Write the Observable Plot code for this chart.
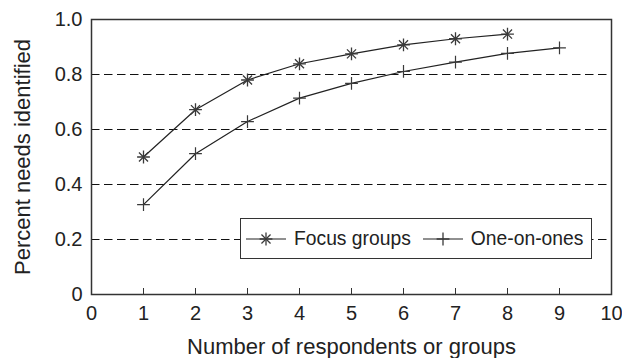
<!DOCTYPE html>
<html>
<head>
<meta charset="utf-8">
<script src="https://cdn.jsdelivr.net/npm/d3@7"></script>
<script src="https://cdn.jsdelivr.net/npm/@observablehq/plot@0.6"></script>
<style>
  body { margin: 0; background: #fff; }
  #wrap { position: relative; width: 622px; height: 358px; font-family: "Liberation Sans", Arial, sans-serif; }
  #legend { position: absolute; left: 240px; top: 218px; width: 350px; height: 39px; border: 1.5px solid #333; background: #fff;
            display: flex; align-items: center; font-size: 19.3px; color: #222; }
  #legend .item { display: flex; align-items: center; }
  #legend svg { display: block; }
</style>
</head>
<body>
<div id="wrap"></div>
<script>
// ---- data ----
const respondents = [1, 2, 3, 4, 5, 6, 7, 8, 9];
const focusGroups = [0.50, 0.672, 0.78, 0.839, 0.875, 0.908, 0.93, 0.947];
const oneOnOnes = [0.327, 0.512, 0.629, 0.714, 0.768, 0.811, 0.845, 0.877, 0.897];
const seriesNames = ["Focus groups", "One-on-ones"];
const xTickValues = [0, 1, 2, 3, 4, 5, 6, 7, 8, 9, 10];
const xInnerTicks = [1, 2, 3, 4, 5, 6, 7, 8, 9];
const yTickValues = [0, 0.2, 0.4, 0.6, 0.8, 1.0];
const gridValues = [0.2, 0.4, 0.6, 0.8];
const xTitle = "Number of respondents or groups";
const yTitle = "Percent needs identified";

const focusData = focusGroups.map((v, i) => ({x: respondents[i], y: v}));
const oneData = oneOnOnes.map((v, i) => ({x: respondents[i], y: v}));

const ink = "#222";
const markInk = "#3a3a3a";

const chart = Plot.plot({
  width: 622,
  height: 358,
  marginLeft: 91,
  marginRight: 11,
  marginTop: 19,
  marginBottom: 64,
  x: {domain: [0, 10]},
  y: {domain: [0, 1]},
  style: {fontFamily: "'Liberation Sans', Arial, sans-serif", fontSize: "20px", color: ink, background: "#fff"},
  marks: [
    Plot.gridY(gridValues, {stroke: "#111", strokeOpacity: 1, strokeWidth: 1.2, strokeDasharray: "8.5,4.5"}),
    Plot.axisY(yTickValues, {tickSize: 0, tickPadding: 9, label: null, tickFormat: d => d === 0 ? "0" : d.toFixed(1)}),
    Plot.axisX(xTickValues, {tickSize: 0, tickPadding: 11, label: null, tickFormat: d => String(d)}),
    Plot.axisX(xInnerTicks, {tickSize: 6, dy: -6, label: null, tickFormat: () => "", stroke: "#333"}),
    Plot.line(focusData, {x: "x", y: "y", stroke: ink, strokeWidth: 1.2}),
    Plot.line(oneData, {x: "x", y: "y", stroke: ink, strokeWidth: 1.2}),
    Plot.dot(focusData, {x: "x", y: "y", symbol: "plus", r: 4.2, stroke: markInk, strokeWidth: 1.3}),
    Plot.dot(focusData, {x: "x", y: "y", symbol: "times", r: 4.2, stroke: markInk, strokeWidth: 1.3}),
    Plot.dot(oneData, {x: "x", y: "y", symbol: "plus", r: 4.2, stroke: markInk, strokeWidth: 1.2}),
    Plot.frame({stroke: "#333", strokeWidth: 1.5}),
    Plot.text([xTitle], {text: d => d, frameAnchor: "bottom", dy: 52, lineAnchor: "middle", textAnchor: "middle", fontSize: 22, fill: ink}),
    Plot.text([yTitle], {text: d => d, frameAnchor: "left", dx: -69, rotate: -90, lineAnchor: "middle", textAnchor: "middle", fontSize: 22, fill: ink})
  ]
});

const wrap = document.getElementById("wrap");
wrap.appendChild(chart);

// ---- legend (inside the plot area) ----
const legend = document.createElement("div");
legend.id = "legend";
function sample(symbols) {
  const ns = "http://www.w3.org/2000/svg";
  const svg = document.createElementNS(ns, "svg");
  svg.setAttribute("width", 40);
  svg.setAttribute("height", 20);
  const line = document.createElementNS(ns, "line");
  line.setAttribute("x1", 0); line.setAttribute("x2", 40);
  line.setAttribute("y1", 10); line.setAttribute("y2", 10);
  line.setAttribute("stroke", ink); line.setAttribute("stroke-width", 1.2);
  svg.appendChild(line);
  symbols.forEach(s => {
    const p = document.createElementNS(ns, "path");
    p.setAttribute("d", d3.symbol(s, Math.PI * 4.2 * 4.2)());
    p.setAttribute("transform", "translate(20,10)");
    p.setAttribute("fill", "none");
    p.setAttribute("stroke", markInk);
    p.setAttribute("stroke-width", 1.3);
    svg.appendChild(p);
  });
  return svg;
}
const items = [[d3.symbolPlus, d3.symbolTimes], [d3.symbolPlus]];
seriesNames.forEach((name, i) => {
  const item = document.createElement("div");
  item.className = "item";
  item.style.marginLeft = i === 0 ? "5px" : "12px";
  const s = sample(items[i]);
  item.appendChild(s);
  const label = document.createElement("span");
  label.textContent = name;
  label.style.marginLeft = "8px";
  item.appendChild(label);
  legend.appendChild(item);
});
wrap.appendChild(legend);
</script>
</body>
</html>
